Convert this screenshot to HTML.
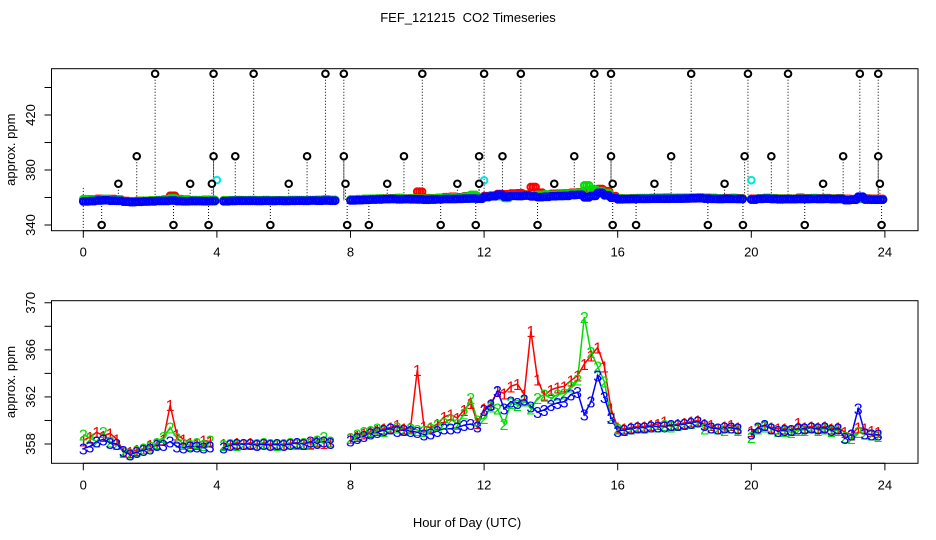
<!DOCTYPE html>
<html><head><meta charset="utf-8"><style>
html,body{margin:0;padding:0;background:#fff}
svg{display:block;font-family:"Liberation Sans",Arial,sans-serif}
</style></head><body>
<svg id="chart" width="936" height="540" viewBox="0 0 936 540" xmlns="http://www.w3.org/2000/svg">
<rect width="936" height="540" fill="#fff"/>
<text x="468" y="22" font-size="13" text-anchor="middle" style="white-space:pre">FEF_121215  CO2 Timeseries</text>
<text x="467" y="527" font-size="13" text-anchor="middle">Hour of Day (UTC)</text>
<g id="top"></g>
<g id="bot"></g>
</svg>
<script>
const series1 = [358.3,358.6,359.0,358.7,358.9, 358.4,357.4,357.3,357.5,357.6, 357.9,358.0,358.4,361.3,358.8, 358.4,358.1,358.0,358.3,358.2,
 null,358.0,358.0,358.1,358.0, 358.1,358.0,358.1,358.0,358.0, 358.0,358.1,358.1,358.0,358.1, 358.2,358.1,358.2,null,null,
 358.5,358.7,358.9,359.0,359.2, 359.3,359.4,359.6,359.3,359.4, 364.3,359.5,359.4,359.7,360.3, 360.5,360.2,360.9,361.5,359.8,
 361.0,361.4,362.5,362.3,362.9, 363.1,362.2,367.6,363.5,362.1, 362.6,362.8,362.9,363.4,363.8, 364.8,365.5,366.2,364.6,361.0,
 359.4,359.3,359.4,359.5,359.5, 359.6,359.7,359.9,359.6,359.7, 359.8,359.9,360.0,359.7,359.6, 359.3,359.5,359.6,359.4,null,
 359.1,359.3,359.6,359.4,359.3, 359.3,359.2,359.8,359.4,359.5, 359.4,359.5,359.3,359.4,359.0, 358.8,359.4,359.3,359.1,359.0];
const series2 = [358.8,358.5,358.2,359.0,358.2, 358.0,357.3,357.2,357.4,357.6, 357.8,358.1,358.6,359.4,358.5, 358.0,357.9,358.1,357.9,358.3,
 null,357.9,358.0,357.9,358.0, 358.0,358.0,358.1,358.0,357.9, 358.0,358.1,358.0,358.1,358.0, 358.3,358.6,358.2,null,null,
 358.5,358.8,359.0,359.1,359.3, 359.1,359.3,359.4,359.2,359.3, 359.2,359.1,359.3,359.6,359.8, 360.1,359.7,360.6,361.9,360.0,
 360.2,361.2,361.0,359.7,361.5, 361.3,361.7,361.0,361.9,362.2, 361.9,362.2,362.3,362.9,363.5, 368.8,365.8,364.6,363.3,360.2,
 359.3,359.2,359.3,359.4,359.4, 359.5,359.5,359.6,359.5,359.6, 359.7,359.8,359.9,359.3,359.4, 359.3,359.2,359.4,359.2,null,
 358.6,359.3,359.5,359.3,359.1, 359.1,359.0,359.2,359.2,359.4, 359.2,359.3,359.1,359.2,358.6, 358.5,359.0,358.9,358.8,358.7];
const series3 = [357.6,357.8,358.2,358.4,358.1, 358.0,357.4,357.1,357.3,357.5, 357.6,357.9,357.9,358.2,357.8, 357.7,357.8,357.8,357.7,357.8,
 null,357.7,357.9,358.0,358.0, 358.0,357.9,358.0,357.9,358.0, 357.9,358.0,358.1,358.0,358.2, 358.1,358.2,358.1,null,null,
 358.3,358.5,358.7,358.9,359.0, 359.2,359.3,359.1,359.2,359.1, 359.0,358.8,358.9,359.1,359.3, 359.3,359.4,359.6,359.7,359.5,
 360.9,361.3,362.5,361.0,361.6, 361.5,361.8,361.2,360.7,360.9, 361.3,361.5,361.6,362.2,362.4, 360.5,361.6,363.8,362.0,360.2,
 359.1,359.2,359.3,359.4,359.4, 359.5,359.5,359.5,359.6,359.6, 359.7,359.8,359.9,359.6,359.4, 359.3,359.4,359.4,359.3,null,
 358.9,359.4,359.6,359.3,359.1, 359.2,359.2,359.3,359.3,359.4, 359.3,359.4,359.2,359.3,358.5, 358.8,361.0,358.9,358.8,358.8];
const hourStep = 0.2;
const outlierHours = [2.15,3.9,5.1,7.25,7.8,10.15,12.0,13.1,15.3,15.8,18.2,19.9,21.1,23.25,23.8,
 1.6,3.9,4.55,6.7,7.8,9.6,11.85,12.55,14.7,15.8,17.6,19.8,20.6,22.75,23.8,
 1.05,3.2,3.85,6.15,7.85,9.1,11.2,11.85,14.1,15.85,17.1,19.2,22.15,23.85,
 0.55,2.7,3.75,5.6,7.9,8.55,10.7,11.75,13.6,15.85,16.55,18.7,19.75,21.6,23.9];
const outlierValues = [450,450,450,450,450,450,450,450,450,450,450,450,450,450,450,
 390,390,390,390,390,390,390,390,390,390,390,390,390,390,390,
 370,370,370,370,370,370,370,370,370,370,370,370,370,370,
 340,340,340,340,340,340,340,340,340,340,340,340,340,340,340];
const cyanHours = [4.0,12.0,20.0];
const cyanValues = [372.7,372.5,372.6];
const xTicks = [0,4,8,12,16,20,24];
const topYTicks = [340,360,380,400,420,440];
const topYLabels = [340,380,420];
const botYTicks = [358,360,362,364,366,368,370];
const botYLabels = [358,362,366,370];

const NS="http://www.w3.org/2000/svg";
function mk(parent,tag,attrs,txt){const e=document.createElementNS(NS,tag);for(const k in attrs)e.setAttribute(k,attrs[k]);if(txt!==undefined)e.textContent=txt;parent.appendChild(e);return e;}
const xS=h=>83.3+h*33.4;
const yT=v=>225-(v-340)*1.375;
const yB=v=>444-(v-358)*11.77;
const colors=["#ff0000","#00dd00","#0000ff"];
const allSeries=[series1,series2,series3];

function frame(g,top,bot,yFn,ticks,labels,name){
  const b=mk(g,"rect",{x:51.5,y:top,width:866.5,height:bot-top,fill:"none",stroke:"#000","stroke-width":1});
  
  
  mk(g,"line",{x1:xS(0),x2:xS(24),y1:bot,y2:bot,stroke:"#000"});
  xTicks.forEach(t=>{
    mk(g,"line",{x1:xS(t),x2:xS(t),y1:bot,y2:bot+7,stroke:"#000"});
    const tl=mk(g,"text",{x:xS(t),y:bot+26,"font-size":13,"text-anchor":"middle"},String(t));
    
    
  });
  mk(g,"line",{x1:51.5,x2:51.5,y1:yFn(ticks[0]),y2:yFn(ticks[ticks.length-1]),stroke:"#000"});
  ticks.forEach(t=>mk(g,"line",{x1:44.5,x2:51.5,y1:yFn(t),y2:yFn(t),stroke:"#000"}));
  labels.forEach(t=>{
    const tl=mk(g,"text",{x:0,y:0,"font-size":13,"text-anchor":"middle",transform:`translate(35,${yFn(t)}) rotate(-90)`},String(t));
    
    
  });
  const yt=mk(g,"text",{x:0,y:0,"font-size":13,"text-anchor":"middle",transform:`translate(15,${(top+bot)/2}) rotate(-90)`},"approx. ppm");
  
  
}

// Top panel
const gT=document.getElementById("top");
frame(gT,68.7,230.7,yT,topYTicks,topYLabels,"top");
mk(gT,"line",{x1:xS(0),x2:xS(0),y1:yT(367),y2:yT(335),stroke:"#000","stroke-dasharray":"1,2"});
outlierHours.forEach((h,i)=>{
  const ln=mk(gT,"line",{x1:xS(h),x2:xS(h),y1:yT(outlierValues[i]),y2:yT(358),stroke:"#000","stroke-dasharray":"1,2"});
  
  
});
allSeries.forEach((s,k)=>{
  s.forEach((v,i)=>{
    if(v===null)return;
    [0,0.07,0.14].forEach(off=>{
      const c=mk(gT,"circle",{cx:xS(i*hourStep+off),cy:yT(v-(k===2?0.4:0)),r:3.4,fill:"none",stroke:colors[k],"stroke-width":2});
      
      
    });
  });
});
cyanHours.forEach((h,i)=>{
  const c=mk(gT,"circle",{cx:xS(h),cy:yT(cyanValues[i]),r:3.3,fill:"none",stroke:"#00e5e5","stroke-width":2});
  
  
});
outlierHours.forEach((h,i)=>{
  const c=mk(gT,"circle",{cx:xS(h),cy:yT(outlierValues[i]),r:3.3,fill:"#fff",stroke:"#000","stroke-width":2});
  
  
});

// Bottom panel
const gB=document.getElementById("bot");
frame(gB,300.7,463.3,yB,botYTicks,botYLabels,"bottom");
allSeries.forEach((s,k)=>{
  let seg=[];
  const segs=[];
  s.forEach((v,i)=>{ if(v===null){ if(seg.length)segs.push(seg); seg=[]; } else seg.push([xS(i*hourStep),yB(v)]); });
  if(seg.length)segs.push(seg);
  segs.forEach(p=>{
    const pl=mk(gB,"polyline",{points:p.map(q=>q.join(",")).join(" "),fill:"none",stroke:colors[k],"stroke-width":1.5});
    
    
  });
});
allSeries.forEach((s,k)=>{
  s.forEach((v,i)=>{
    if(v===null)return;
    const t=mk(gB,"text",{x:xS(i*hourStep),y:yB(v)+6,"font-size":16,"text-anchor":"middle",fill:colors[k]},String(k+1));
    
    
  });
});
</script>
</body></html>
